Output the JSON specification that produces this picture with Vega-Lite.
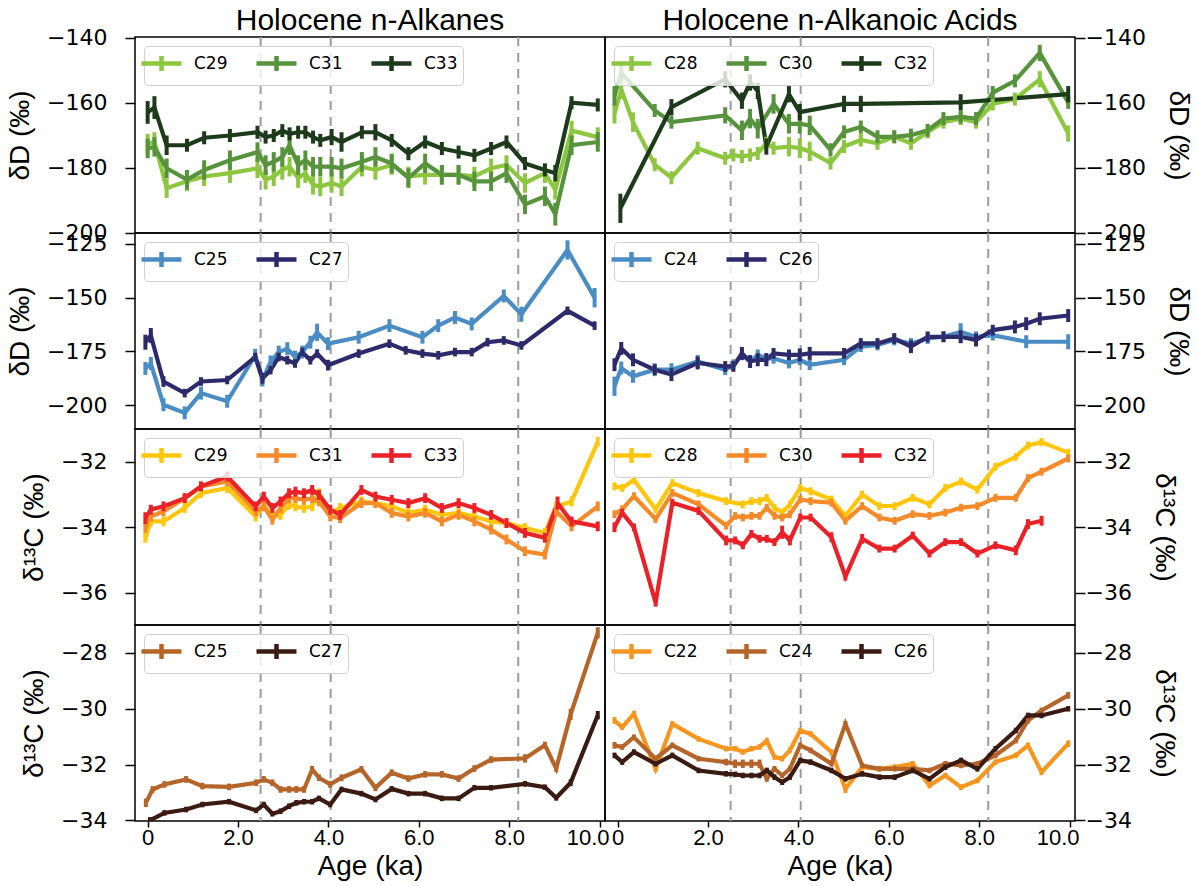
{
"$schema": "https://vega.github.io/schema/vega-lite/v6.json",
"background": "white",
"padding": {"left": 5, "top": 4, "right": 2, "bottom": 0},
"columns": 2,
"spacing": 0,
"bounds": "flush",
"resolve": {"scale": {"color": "independent", "x": "independent", "y": "independent"}, "legend": {"color": "independent"}},
"config": {
  "view": {"stroke": "black", "strokeWidth": 1.5},
  "axis": {"labelFont": "DejaVu Sans", "labelFontSize": 22, "labelColor": "black", "tickColor": "black", "tickSize": 10, "tickWidth": 1.5, "labelPadding": 18, "domain": false, "grid": false, "titleFont": "Liberation Sans", "titleFontSize": 28, "titleFontWeight": "normal", "titleColor": "black", "titlePadding": 12, "format": "d"},
  "axisRight": {"labelPadding": 0, "titlePadding": 18},
  "axisX": {"labelFont": "Liberation Sans", "labelFontSize": 22, "labelPadding": 0, "tickSize": 6, "titlePadding": 4},
  "title": {"font": "Liberation Sans", "fontSize": 30, "fontWeight": "normal", "color": "black", "offset": -9},
  "legend": {"orient": "top-left", "offset": 9, "direction": "horizontal", "labelFont": "DejaVu Sans", "labelFontSize": 17, "labelColor": "black", "symbolType": "M-2,0H2M0,-0.75V0.75", "symbolSize": 400, "symbolStrokeWidth": 4.5, "symbolFillColor": "transparent", "labelOffset": 20, "columnPadding": 19, "padding": 5, "strokeColor": "#d0d0d0", "fillColor": "rgba(255,255,255,0.8)", "cornerRadius": 4}
},
"datasets": {
  "ev": [{"x": 2.5}, {"x": 4.05}, {"x": 8.2}],
  "a1": [
    {"s":"C29","x":0.0,"y":-172.6,"e":3},{"s":"C29","x":0.15,"y":-172.1,"e":3},{"s":"C29","x":0.42,"y":-186.3,"e":3},{"s":"C29","x":0.87,"y":-184.2,"e":3},{"s":"C29","x":1.25,"y":-182.7,"e":3},{"s":"C29","x":1.82,"y":-181.7,"e":3},{"s":"C29","x":2.43,"y":-180.2,"e":3},{"s":"C29","x":2.61,"y":-183.7,"e":3},{"s":"C29","x":2.79,"y":-182.7,"e":3},{"s":"C29","x":2.98,"y":-180.7,"e":3},{"s":"C29","x":3.14,"y":-179.7,"e":3},{"s":"C29","x":3.33,"y":-183.2,"e":3},{"s":"C29","x":3.49,"y":-181.7,"e":3},{"s":"C29","x":3.66,"y":-185.3,"e":3},{"s":"C29","x":3.82,"y":-185.8,"e":3},{"s":"C29","x":4.07,"y":-184.7,"e":3},{"s":"C29","x":4.29,"y":-185.8,"e":3},{"s":"C29","x":4.74,"y":-179.7,"e":3},{"s":"C29","x":5.04,"y":-180.7,"e":3},{"s":"C29","x":5.4,"y":-179.2,"e":3},{"s":"C29","x":5.77,"y":-182.7,"e":3},{"s":"C29","x":6.14,"y":-182.2,"e":3},{"s":"C29","x":6.51,"y":-182.2,"e":3},{"s":"C29","x":6.88,"y":-182.2,"e":3},{"s":"C29","x":7.23,"y":-182.7,"e":3},{"s":"C29","x":7.6,"y":-180.2,"e":3},{"s":"C29","x":7.94,"y":-179.2,"e":3},{"s":"C29","x":8.35,"y":-184.7,"e":3},{"s":"C29","x":8.79,"y":-181.7,"e":3},{"s":"C29","x":9.02,"y":-186.8,"e":3},{"s":"C29","x":9.38,"y":-168.6,"e":3},{"s":"C29","x":9.96,"y":-170.6,"e":3},
    {"s":"C31","x":0.0,"y":-174.1,"e":3},{"s":"C31","x":0.15,"y":-173.6,"e":3},{"s":"C31","x":0.42,"y":-180.2,"e":3},{"s":"C31","x":0.87,"y":-183.7,"e":3},{"s":"C31","x":1.25,"y":-180.7,"e":3},{"s":"C31","x":1.82,"y":-177.7,"e":3},{"s":"C31","x":2.43,"y":-175.2,"e":3},{"s":"C31","x":2.61,"y":-179.2,"e":3},{"s":"C31","x":2.79,"y":-178.2,"e":3},{"s":"C31","x":2.98,"y":-176.7,"e":3},{"s":"C31","x":3.14,"y":-173.1,"e":3},{"s":"C31","x":3.33,"y":-179.2,"e":3},{"s":"C31","x":3.49,"y":-177.7,"e":3},{"s":"C31","x":3.66,"y":-179.7,"e":3},{"s":"C31","x":3.82,"y":-179.7,"e":3},{"s":"C31","x":4.07,"y":-179.7,"e":3},{"s":"C31","x":4.29,"y":-180.2,"e":3},{"s":"C31","x":4.74,"y":-178.2,"e":3},{"s":"C31","x":5.04,"y":-176.7,"e":3},{"s":"C31","x":5.4,"y":-178.7,"e":3},{"s":"C31","x":5.77,"y":-183.2,"e":3},{"s":"C31","x":6.14,"y":-178.7,"e":3},{"s":"C31","x":6.51,"y":-182.2,"e":3},{"s":"C31","x":6.88,"y":-182.2,"e":3},{"s":"C31","x":7.23,"y":-184.2,"e":3},{"s":"C31","x":7.6,"y":-184.2,"e":3},{"s":"C31","x":7.94,"y":-181.7,"e":3},{"s":"C31","x":8.35,"y":-191.3,"e":3},{"s":"C31","x":8.79,"y":-188.8,"e":3},{"s":"C31","x":9.02,"y":-194.3,"e":3.5},{"s":"C31","x":9.38,"y":-173.1,"e":3},{"s":"C31","x":9.96,"y":-172.1,"e":3},
    {"s":"C33","x":0.0,"y":-163.0,"e":3.5},{"s":"C33","x":0.15,"y":-161.5,"e":3.5},{"s":"C33","x":0.42,"y":-173.1,"e":3},{"s":"C33","x":0.87,"y":-173.1,"e":2},{"s":"C33","x":1.25,"y":-170.8,"e":2},{"s":"C33","x":1.82,"y":-170.1,"e":2},{"s":"C33","x":2.43,"y":-169.1,"e":2},{"s":"C33","x":2.61,"y":-170.6,"e":2},{"s":"C33","x":2.79,"y":-170.1,"e":2},{"s":"C33","x":2.98,"y":-168.6,"e":2},{"s":"C33","x":3.14,"y":-169.6,"e":2},{"s":"C33","x":3.33,"y":-169.1,"e":2},{"s":"C33","x":3.49,"y":-169.1,"e":2},{"s":"C33","x":3.66,"y":-170.6,"e":2},{"s":"C33","x":3.82,"y":-171.6,"e":2},{"s":"C33","x":4.07,"y":-170.6,"e":2.5},{"s":"C33","x":4.29,"y":-172.1,"e":3},{"s":"C33","x":4.74,"y":-169.1,"e":2},{"s":"C33","x":5.04,"y":-169.1,"e":2.5},{"s":"C33","x":5.4,"y":-171.6,"e":2},{"s":"C33","x":5.77,"y":-175.7,"e":2},{"s":"C33","x":6.14,"y":-172.1,"e":2},{"s":"C33","x":6.51,"y":-174.1,"e":2},{"s":"C33","x":6.88,"y":-175.2,"e":2},{"s":"C33","x":7.23,"y":-176.2,"e":2},{"s":"C33","x":7.6,"y":-174.1,"e":2},{"s":"C33","x":7.94,"y":-172.1,"e":2},{"s":"C33","x":8.35,"y":-178.7,"e":2},{"s":"C33","x":8.79,"y":-180.7,"e":2},{"s":"C33","x":9.02,"y":-181.7,"e":2.5},{"s":"C33","x":9.38,"y":-160.0,"e":2},{"s":"C33","x":9.96,"y":-160.7,"e":2}
  ],
  "b1": [
    {"s":"C28","x":-0.07,"y":-163.4,"e":3},{"s":"C28","x":0.08,"y":-155.9,"e":3},{"s":"C28","x":0.34,"y":-166.0,"e":3},{"s":"C28","x":0.82,"y":-179.1,"e":2},{"s":"C28","x":1.19,"y":-183.1,"e":2},{"s":"C28","x":1.77,"y":-174.0,"e":2},{"s":"C28","x":2.38,"y":-177.1,"e":2},{"s":"C28","x":2.56,"y":-176.1,"e":2},{"s":"C28","x":2.75,"y":-176.6,"e":2},{"s":"C28","x":2.93,"y":-176.1,"e":2},{"s":"C28","x":3.1,"y":-175.6,"e":2},{"s":"C28","x":3.29,"y":-172.5,"e":2},{"s":"C28","x":3.45,"y":-174.0,"e":2},{"s":"C28","x":3.79,"y":-173.5,"e":3},{"s":"C28","x":4.03,"y":-174.0,"e":3},{"s":"C28","x":4.25,"y":-175.0,"e":3},{"s":"C28","x":4.71,"y":-178.6,"e":2},{"s":"C28","x":5.01,"y":-173.5,"e":2},{"s":"C28","x":5.38,"y":-171.5,"e":2},{"s":"C28","x":5.75,"y":-172.5,"e":2},{"s":"C28","x":6.12,"y":-170.5,"e":2},{"s":"C28","x":6.49,"y":-172.5,"e":2},{"s":"C28","x":6.86,"y":-169.0,"e":2},{"s":"C28","x":7.21,"y":-166.0,"e":2},{"s":"C28","x":7.59,"y":-164.9,"e":2},{"s":"C28","x":7.93,"y":-166.0,"e":2},{"s":"C28","x":8.3,"y":-160.4,"e":2},{"s":"C28","x":8.79,"y":-158.9,"e":2},{"s":"C28","x":9.34,"y":-152.8,"e":2.5},{"s":"C28","x":9.97,"y":-169.5,"e":2.5},
    {"s":"C30","x":-0.07,"y":-157.9,"e":3},{"s":"C30","x":0.08,"y":-150.8,"e":3},{"s":"C30","x":0.82,"y":-162.4,"e":2},{"s":"C30","x":1.19,"y":-166.0,"e":2},{"s":"C30","x":2.38,"y":-163.9,"e":2.5},{"s":"C30","x":2.75,"y":-168.5,"e":3},{"s":"C30","x":2.93,"y":-164.9,"e":3},{"s":"C30","x":3.1,"y":-168.0,"e":3},{"s":"C30","x":3.45,"y":-160.4,"e":3},{"s":"C30","x":3.79,"y":-166.5,"e":3},{"s":"C30","x":4.03,"y":-166.5,"e":3},{"s":"C30","x":4.25,"y":-167.0,"e":3},{"s":"C30","x":4.71,"y":-174.5,"e":2},{"s":"C30","x":5.01,"y":-169.0,"e":2},{"s":"C30","x":5.38,"y":-167.5,"e":2},{"s":"C30","x":5.75,"y":-170.5,"e":2},{"s":"C30","x":6.12,"y":-170.5,"e":2},{"s":"C30","x":6.49,"y":-170.0,"e":2},{"s":"C30","x":6.86,"y":-168.5,"e":2},{"s":"C30","x":7.21,"y":-164.9,"e":2},{"s":"C30","x":7.59,"y":-164.4,"e":2},{"s":"C30","x":7.93,"y":-164.9,"e":2},{"s":"C30","x":8.3,"y":-156.9,"e":2},{"s":"C30","x":8.79,"y":-153.3,"e":2},{"s":"C30","x":9.34,"y":-144.7,"e":2.5},{"s":"C30","x":9.97,"y":-159.9,"e":2},
    {"s":"C32","x":0.06,"y":-192.5,"e":4.5},{"s":"C32","x":1.19,"y":-161.4,"e":2.5},{"s":"C32","x":2.38,"y":-152.8,"e":2.5},{"s":"C32","x":2.75,"y":-159.4,"e":2.5},{"s":"C32","x":2.93,"y":-153.8,"e":2.5},{"s":"C32","x":3.1,"y":-156.4,"e":2.5},{"s":"C32","x":3.29,"y":-173.5,"e":2.5},{"s":"C32","x":3.79,"y":-157.4,"e":2.5},{"s":"C32","x":4.03,"y":-162.9,"e":2.5},{"s":"C32","x":5.01,"y":-160.4,"e":2.5},{"s":"C32","x":5.38,"y":-160.4,"e":2.5},{"s":"C32","x":7.59,"y":-159.9,"e":2.5},{"s":"C32","x":9.97,"y":-157.4,"e":2.5}
  ],
  "a2": [
    {"s":"C25","x":-0.05,"y":-182.9,"e":3},{"s":"C25","x":0.07,"y":-180.6,"e":3},{"s":"C25","x":0.35,"y":-199.8,"e":3},{"s":"C25","x":0.82,"y":-203.6,"e":3},{"s":"C25","x":1.18,"y":-194.4,"e":3},{"s":"C25","x":1.76,"y":-198.2,"e":3},{"s":"C25","x":2.38,"y":-176.8,"e":3},{"s":"C25","x":2.54,"y":-188.3,"e":3},{"s":"C25","x":2.72,"y":-179.9,"e":3},{"s":"C25","x":2.9,"y":-175.3,"e":3},{"s":"C25","x":3.09,"y":-173.7,"e":3},{"s":"C25","x":3.26,"y":-177.6,"e":3},{"s":"C25","x":3.42,"y":-175.3,"e":3},{"s":"C25","x":3.6,"y":-170.7,"e":3},{"s":"C25","x":3.75,"y":-166.1,"e":4},{"s":"C25","x":3.99,"y":-171.4,"e":3},{"s":"C25","x":4.67,"y":-168.4,"e":3},{"s":"C25","x":5.35,"y":-163.0,"e":3},{"s":"C25","x":6.08,"y":-168.4,"e":3},{"s":"C25","x":6.43,"y":-163.0,"e":3},{"s":"C25","x":6.8,"y":-159.2,"e":3},{"s":"C25","x":7.17,"y":-162.2,"e":3},{"s":"C25","x":7.88,"y":-149.2,"e":3},{"s":"C25","x":8.27,"y":-157.7,"e":3.5},{"s":"C25","x":9.29,"y":-127.8,"e":4.5},{"s":"C25","x":9.89,"y":-150.0,"e":4.5},
    {"s":"C27","x":-0.05,"y":-170.7,"e":3.5},{"s":"C27","x":0.07,"y":-167.6,"e":3.5},{"s":"C27","x":0.35,"y":-189.0,"e":2.5},{"s":"C27","x":0.82,"y":-194.4,"e":2},{"s":"C27","x":1.18,"y":-189.0,"e":2},{"s":"C27","x":1.76,"y":-188.3,"e":2},{"s":"C27","x":2.38,"y":-177.6,"e":2},{"s":"C27","x":2.54,"y":-187.5,"e":2.5},{"s":"C27","x":2.72,"y":-183.7,"e":2},{"s":"C27","x":2.9,"y":-177.6,"e":2},{"s":"C27","x":3.09,"y":-179.1,"e":2},{"s":"C27","x":3.26,"y":-180.6,"e":2},{"s":"C27","x":3.42,"y":-175.3,"e":2},{"s":"C27","x":3.6,"y":-179.1,"e":2},{"s":"C27","x":3.75,"y":-176.0,"e":2},{"s":"C27","x":3.99,"y":-181.4,"e":2.5},{"s":"C27","x":4.67,"y":-176.0,"e":2},{"s":"C27","x":5.35,"y":-171.4,"e":2},{"s":"C27","x":5.71,"y":-174.5,"e":2},{"s":"C27","x":6.08,"y":-176.0,"e":2},{"s":"C27","x":6.43,"y":-176.8,"e":2},{"s":"C27","x":6.8,"y":-175.3,"e":2},{"s":"C27","x":7.17,"y":-175.3,"e":2},{"s":"C27","x":7.52,"y":-170.7,"e":2},{"s":"C27","x":7.88,"y":-169.9,"e":2},{"s":"C27","x":8.27,"y":-172.2,"e":2},{"s":"C27","x":9.29,"y":-156.1,"e":2},{"s":"C27","x":9.89,"y":-163.0,"e":2}
  ],
  "b2": [
    {"s":"C24","x":-0.07,"y":-191.2,"e":4.5},{"s":"C24","x":0.08,"y":-182.7,"e":3},{"s":"C24","x":0.34,"y":-186.6,"e":3},{"s":"C24","x":0.82,"y":-183.5,"e":3},{"s":"C24","x":1.19,"y":-183.5,"e":3},{"s":"C24","x":1.77,"y":-179.7,"e":3},{"s":"C24","x":2.38,"y":-183.5,"e":2.5},{"s":"C24","x":2.56,"y":-181.2,"e":2.5},{"s":"C24","x":2.75,"y":-176.6,"e":2.5},{"s":"C24","x":2.93,"y":-179.7,"e":2.5},{"s":"C24","x":3.1,"y":-176.6,"e":2.5},{"s":"C24","x":3.29,"y":-178.2,"e":2.5},{"s":"C24","x":3.45,"y":-178.2,"e":2.5},{"s":"C24","x":3.79,"y":-180.4,"e":2.5},{"s":"C24","x":4.03,"y":-178.9,"e":2.5},{"s":"C24","x":4.25,"y":-181.2,"e":2.5},{"s":"C24","x":5.01,"y":-178.9,"e":2.5},{"s":"C24","x":5.38,"y":-172.8,"e":2.5},{"s":"C24","x":5.75,"y":-172.0,"e":2.5},{"s":"C24","x":6.12,"y":-169.7,"e":2.5},{"s":"C24","x":6.49,"y":-171.3,"e":2.5},{"s":"C24","x":6.86,"y":-169.0,"e":2.5},{"s":"C24","x":7.21,"y":-168.2,"e":2.5},{"s":"C24","x":7.59,"y":-165.9,"e":4},{"s":"C24","x":7.93,"y":-168.2,"e":2.5},{"s":"C24","x":8.3,"y":-167.4,"e":2.5},{"s":"C24","x":9.04,"y":-170.5,"e":3},{"s":"C24","x":9.97,"y":-170.5,"e":3.5},
    {"s":"C26","x":-0.07,"y":-181.2,"e":3},{"s":"C26","x":0.08,"y":-173.6,"e":3},{"s":"C26","x":0.34,"y":-178.9,"e":3},{"s":"C26","x":0.82,"y":-183.5,"e":2.5},{"s":"C26","x":1.19,"y":-185.8,"e":3},{"s":"C26","x":1.77,"y":-180.4,"e":3},{"s":"C26","x":2.38,"y":-182.0,"e":2.5},{"s":"C26","x":2.56,"y":-182.0,"e":2.5},{"s":"C26","x":2.75,"y":-175.9,"e":3},{"s":"C26","x":2.93,"y":-179.7,"e":3},{"s":"C26","x":3.1,"y":-178.9,"e":3},{"s":"C26","x":3.29,"y":-178.9,"e":3},{"s":"C26","x":3.45,"y":-175.9,"e":2.5},{"s":"C26","x":3.79,"y":-176.6,"e":2.5},{"s":"C26","x":4.03,"y":-176.6,"e":3},{"s":"C26","x":4.25,"y":-175.9,"e":3},{"s":"C26","x":5.01,"y":-175.9,"e":2.5},{"s":"C26","x":5.38,"y":-171.3,"e":2.5},{"s":"C26","x":5.75,"y":-171.3,"e":2.5},{"s":"C26","x":6.12,"y":-169.0,"e":2.5},{"s":"C26","x":6.49,"y":-172.8,"e":3},{"s":"C26","x":6.86,"y":-168.2,"e":2.5},{"s":"C26","x":7.21,"y":-168.2,"e":2.5},{"s":"C26","x":7.59,"y":-168.2,"e":3},{"s":"C26","x":7.93,"y":-169.7,"e":3},{"s":"C26","x":8.3,"y":-165.1,"e":2.5},{"s":"C26","x":8.79,"y":-163.6,"e":3},{"s":"C26","x":9.04,"y":-162.1,"e":3},{"s":"C26","x":9.34,"y":-159.8,"e":3},{"s":"C26","x":9.97,"y":-158.3,"e":3}
  ],
  "a3": [
    {"s":"C29","x":-0.05,"y":-34.32,"e":0.15},{"s":"C29","x":0.07,"y":-33.82,"e":0.15},{"s":"C29","x":0.35,"y":-33.82,"e":0.15},{"s":"C29","x":0.82,"y":-33.41,"e":0.15},{"s":"C29","x":1.18,"y":-32.96,"e":0.15},{"s":"C29","x":1.76,"y":-32.8,"e":0.15},{"s":"C29","x":2.39,"y":-33.67,"e":0.15},{"s":"C29","x":2.57,"y":-33.31,"e":0.15},{"s":"C29","x":2.76,"y":-33.67,"e":0.15},{"s":"C29","x":2.94,"y":-33.62,"e":0.15},{"s":"C29","x":3.13,"y":-33.31,"e":0.15},{"s":"C29","x":3.27,"y":-33.36,"e":0.15},{"s":"C29","x":3.46,"y":-33.41,"e":0.15},{"s":"C29","x":3.64,"y":-33.36,"e":0.15},{"s":"C29","x":3.79,"y":-32.96,"e":0.15},{"s":"C29","x":4.04,"y":-33.56,"e":0.15},{"s":"C29","x":4.26,"y":-33.41,"e":0.15},{"s":"C29","x":4.73,"y":-33.21,"e":0.15},{"s":"C29","x":5.04,"y":-33.26,"e":0.15},{"s":"C29","x":5.4,"y":-33.36,"e":0.15},{"s":"C29","x":5.77,"y":-33.56,"e":0.15},{"s":"C29","x":6.14,"y":-33.46,"e":0.15},{"s":"C29","x":6.51,"y":-33.62,"e":0.15},{"s":"C29","x":6.88,"y":-33.56,"e":0.15},{"s":"C29","x":7.23,"y":-33.67,"e":0.15},{"s":"C29","x":7.6,"y":-33.82,"e":0.15},{"s":"C29","x":7.94,"y":-33.87,"e":0.15},{"s":"C29","x":8.35,"y":-34.02,"e":0.15},{"s":"C29","x":8.79,"y":-34.17,"e":0.15},{"s":"C29","x":9.04,"y":-33.36,"e":0.15},{"s":"C29","x":9.38,"y":-33.21,"e":0.15},{"s":"C29","x":9.96,"y":-31.39,"e":0.15},
    {"s":"C31","x":-0.05,"y":-34.02,"e":0.15},{"s":"C31","x":0.07,"y":-33.67,"e":0.15},{"s":"C31","x":0.35,"y":-33.51,"e":0.15},{"s":"C31","x":0.82,"y":-33.11,"e":0.15},{"s":"C31","x":1.18,"y":-32.75,"e":0.15},{"s":"C31","x":1.76,"y":-32.6,"e":0.15},{"s":"C31","x":2.39,"y":-33.51,"e":0.15},{"s":"C31","x":2.57,"y":-33.36,"e":0.15},{"s":"C31","x":2.76,"y":-33.77,"e":0.15},{"s":"C31","x":2.94,"y":-33.41,"e":0.15},{"s":"C31","x":3.13,"y":-33.11,"e":0.15},{"s":"C31","x":3.27,"y":-33.11,"e":0.15},{"s":"C31","x":3.46,"y":-33.16,"e":0.15},{"s":"C31","x":3.64,"y":-33.11,"e":0.15},{"s":"C31","x":3.79,"y":-33.21,"e":0.15},{"s":"C31","x":4.04,"y":-33.67,"e":0.15},{"s":"C31","x":4.26,"y":-33.72,"e":0.15},{"s":"C31","x":4.73,"y":-33.26,"e":0.15},{"s":"C31","x":5.04,"y":-33.26,"e":0.15},{"s":"C31","x":5.4,"y":-33.56,"e":0.15},{"s":"C31","x":5.77,"y":-33.67,"e":0.15},{"s":"C31","x":6.14,"y":-33.56,"e":0.15},{"s":"C31","x":6.51,"y":-33.82,"e":0.15},{"s":"C31","x":6.88,"y":-33.62,"e":0.15},{"s":"C31","x":7.23,"y":-33.82,"e":0.15},{"s":"C31","x":7.6,"y":-34.07,"e":0.15},{"s":"C31","x":7.94,"y":-34.37,"e":0.15},{"s":"C31","x":8.35,"y":-34.73,"e":0.15},{"s":"C31","x":8.79,"y":-34.83,"e":0.15},{"s":"C31","x":9.04,"y":-33.51,"e":0.15},{"s":"C31","x":9.38,"y":-33.97,"e":0.15},{"s":"C31","x":9.96,"y":-33.36,"e":0.15},
    {"s":"C33","x":-0.05,"y":-33.72,"e":0.18},{"s":"C33","x":0.07,"y":-33.46,"e":0.15},{"s":"C33","x":0.35,"y":-33.36,"e":0.15},{"s":"C33","x":0.82,"y":-33.11,"e":0.15},{"s":"C33","x":1.18,"y":-32.75,"e":0.15},{"s":"C33","x":1.76,"y":-32.45,"e":0.15},{"s":"C33","x":2.39,"y":-33.36,"e":0.15},{"s":"C33","x":2.57,"y":-33.06,"e":0.15},{"s":"C33","x":2.76,"y":-33.41,"e":0.15},{"s":"C33","x":2.94,"y":-33.21,"e":0.15},{"s":"C33","x":3.13,"y":-32.96,"e":0.15},{"s":"C33","x":3.27,"y":-32.91,"e":0.15},{"s":"C33","x":3.46,"y":-32.96,"e":0.15},{"s":"C33","x":3.64,"y":-32.86,"e":0.15},{"s":"C33","x":3.79,"y":-33.01,"e":0.15},{"s":"C33","x":4.04,"y":-33.46,"e":0.15},{"s":"C33","x":4.26,"y":-33.62,"e":0.15},{"s":"C33","x":4.73,"y":-32.86,"e":0.15},{"s":"C33","x":5.04,"y":-33.06,"e":0.15},{"s":"C33","x":5.4,"y":-33.16,"e":0.15},{"s":"C33","x":5.77,"y":-33.26,"e":0.15},{"s":"C33","x":6.14,"y":-33.11,"e":0.15},{"s":"C33","x":6.51,"y":-33.41,"e":0.15},{"s":"C33","x":6.88,"y":-33.26,"e":0.15},{"s":"C33","x":7.23,"y":-33.41,"e":0.15},{"s":"C33","x":7.6,"y":-33.62,"e":0.15},{"s":"C33","x":7.94,"y":-33.87,"e":0.15},{"s":"C33","x":8.35,"y":-34.17,"e":0.15},{"s":"C33","x":8.79,"y":-34.32,"e":0.15},{"s":"C33","x":9.07,"y":-33.26,"e":0.2},{"s":"C33","x":9.38,"y":-33.82,"e":0.15},{"s":"C33","x":9.96,"y":-33.97,"e":0.15}
  ],
  "b3": [
    {"s":"C28","x":-0.07,"y":-32.75,"e":0.12},{"s":"C28","x":0.1,"y":-32.8,"e":0.12},{"s":"C28","x":0.36,"y":-32.55,"e":0.12},{"s":"C28","x":0.84,"y":-33.45,"e":0.12},{"s":"C28","x":1.21,"y":-32.65,"e":0.12},{"s":"C28","x":1.79,"y":-32.95,"e":0.12},{"s":"C28","x":2.4,"y":-33.2,"e":0.12},{"s":"C28","x":2.77,"y":-33.3,"e":0.12},{"s":"C28","x":2.96,"y":-33.2,"e":0.12},{"s":"C28","x":3.14,"y":-33.2,"e":0.12},{"s":"C28","x":3.3,"y":-33.1,"e":0.12},{"s":"C28","x":3.47,"y":-33.4,"e":0.12},{"s":"C28","x":3.64,"y":-33.55,"e":0.12},{"s":"C28","x":3.81,"y":-33.3,"e":0.12},{"s":"C28","x":4.04,"y":-32.8,"e":0.12},{"s":"C28","x":4.27,"y":-32.9,"e":0.12},{"s":"C28","x":4.73,"y":-33.15,"e":0.12},{"s":"C28","x":5.04,"y":-33.65,"e":0.12},{"s":"C28","x":5.41,"y":-33.0,"e":0.12},{"s":"C28","x":5.79,"y":-33.35,"e":0.12},{"s":"C28","x":6.13,"y":-33.35,"e":0.12},{"s":"C28","x":6.53,"y":-33.1,"e":0.12},{"s":"C28","x":6.9,"y":-33.3,"e":0.12},{"s":"C28","x":7.25,"y":-32.8,"e":0.12},{"s":"C28","x":7.6,"y":-32.6,"e":0.12},{"s":"C28","x":7.96,"y":-32.85,"e":0.12},{"s":"C28","x":8.36,"y":-32.15,"e":0.12},{"s":"C28","x":8.81,"y":-31.85,"e":0.12},{"s":"C28","x":9.08,"y":-31.5,"e":0.12},{"s":"C28","x":9.38,"y":-31.4,"e":0.12},{"s":"C28","x":9.97,"y":-31.72,"e":0.12},
    {"s":"C30","x":-0.07,"y":-33.6,"e":0.12},{"s":"C30","x":0.1,"y":-33.45,"e":0.12},{"s":"C30","x":0.36,"y":-33.05,"e":0.12},{"s":"C30","x":0.84,"y":-33.75,"e":0.12},{"s":"C30","x":1.21,"y":-32.95,"e":0.12},{"s":"C30","x":1.79,"y":-33.3,"e":0.12},{"s":"C30","x":2.4,"y":-33.95,"e":0.12},{"s":"C30","x":2.6,"y":-33.65,"e":0.12},{"s":"C30","x":2.77,"y":-33.7,"e":0.12},{"s":"C30","x":2.96,"y":-33.65,"e":0.12},{"s":"C30","x":3.14,"y":-33.65,"e":0.12},{"s":"C30","x":3.3,"y":-33.4,"e":0.12},{"s":"C30","x":3.47,"y":-33.65,"e":0.12},{"s":"C30","x":3.64,"y":-33.7,"e":0.12},{"s":"C30","x":3.81,"y":-33.6,"e":0.12},{"s":"C30","x":4.04,"y":-33.15,"e":0.12},{"s":"C30","x":4.27,"y":-33.2,"e":0.12},{"s":"C30","x":4.73,"y":-33.25,"e":0.12},{"s":"C30","x":5.04,"y":-33.8,"e":0.12},{"s":"C30","x":5.41,"y":-33.35,"e":0.12},{"s":"C30","x":5.79,"y":-33.7,"e":0.12},{"s":"C30","x":6.13,"y":-33.8,"e":0.12},{"s":"C30","x":6.53,"y":-33.6,"e":0.12},{"s":"C30","x":6.9,"y":-33.65,"e":0.12},{"s":"C30","x":7.25,"y":-33.55,"e":0.12},{"s":"C30","x":7.6,"y":-33.4,"e":0.12},{"s":"C30","x":7.96,"y":-33.35,"e":0.12},{"s":"C30","x":8.36,"y":-33.1,"e":0.12},{"s":"C30","x":8.81,"y":-33.1,"e":0.12},{"s":"C30","x":9.08,"y":-32.5,"e":0.12},{"s":"C30","x":9.38,"y":-32.3,"e":0.12},{"s":"C30","x":9.97,"y":-31.9,"e":0.12},
    {"s":"C32","x":-0.07,"y":-34.0,"e":0.15},{"s":"C32","x":0.1,"y":-33.55,"e":0.12},{"s":"C32","x":0.36,"y":-34.0,"e":0.12},{"s":"C32","x":0.84,"y":-36.3,"e":0.12},{"s":"C32","x":1.21,"y":-33.25,"e":0.12},{"s":"C32","x":1.79,"y":-33.5,"e":0.12},{"s":"C32","x":2.4,"y":-34.4,"e":0.15},{"s":"C32","x":2.6,"y":-34.4,"e":0.12},{"s":"C32","x":2.77,"y":-34.55,"e":0.12},{"s":"C32","x":2.96,"y":-34.2,"e":0.12},{"s":"C32","x":3.14,"y":-34.35,"e":0.12},{"s":"C32","x":3.3,"y":-34.35,"e":0.12},{"s":"C32","x":3.47,"y":-34.45,"e":0.12},{"s":"C32","x":3.64,"y":-34.15,"e":0.2},{"s":"C32","x":3.81,"y":-34.4,"e":0.15},{"s":"C32","x":4.04,"y":-33.7,"e":0.12},{"s":"C32","x":4.27,"y":-33.7,"e":0.12},{"s":"C32","x":4.73,"y":-34.3,"e":0.15},{"s":"C32","x":5.04,"y":-35.5,"e":0.12},{"s":"C32","x":5.41,"y":-34.35,"e":0.15},{"s":"C32","x":5.79,"y":-34.65,"e":0.12},{"s":"C32","x":6.13,"y":-34.65,"e":0.12},{"s":"C32","x":6.53,"y":-34.25,"e":0.12},{"s":"C32","x":6.9,"y":-34.8,"e":0.12},{"s":"C32","x":7.25,"y":-34.45,"e":0.12},{"s":"C32","x":7.6,"y":-34.45,"e":0.12},{"s":"C32","x":7.96,"y":-34.8,"e":0.12},{"s":"C32","x":8.36,"y":-34.55,"e":0.12},{"s":"C32","x":8.81,"y":-34.7,"e":0.15},{"s":"C32","x":9.08,"y":-33.9,"e":0.15},{"s":"C32","x":9.38,"y":-33.8,"e":0.15}
  ],
  "a4": [
    {"s":"C25","x":-0.04,"y":-33.37,"e":0.15},{"s":"C25","x":0.11,"y":-32.89,"e":0.12},{"s":"C25","x":0.37,"y":-32.71,"e":0.12},{"s":"C25","x":0.85,"y":-32.53,"e":0.12},{"s":"C25","x":1.21,"y":-32.77,"e":0.12},{"s":"C25","x":1.8,"y":-32.8,"e":0.12},{"s":"C25","x":2.4,"y":-32.65,"e":0.12},{"s":"C25","x":2.57,"y":-32.53,"e":0.12},{"s":"C25","x":2.76,"y":-32.65,"e":0.12},{"s":"C25","x":2.94,"y":-32.89,"e":0.12},{"s":"C25","x":3.13,"y":-32.89,"e":0.12},{"s":"C25","x":3.29,"y":-32.89,"e":0.12},{"s":"C25","x":3.46,"y":-32.89,"e":0.12},{"s":"C25","x":3.64,"y":-32.17,"e":0.12},{"s":"C25","x":3.79,"y":-32.47,"e":0.12},{"s":"C25","x":4.04,"y":-32.71,"e":0.12},{"s":"C25","x":4.29,"y":-32.47,"e":0.12},{"s":"C25","x":4.73,"y":-32.17,"e":0.12},{"s":"C25","x":5.04,"y":-32.83,"e":0.12},{"s":"C25","x":5.4,"y":-32.29,"e":0.12},{"s":"C25","x":5.77,"y":-32.5,"e":0.12},{"s":"C25","x":6.14,"y":-32.35,"e":0.12},{"s":"C25","x":6.51,"y":-32.35,"e":0.12},{"s":"C25","x":6.88,"y":-32.5,"e":0.12},{"s":"C25","x":7.23,"y":-32.14,"e":0.12},{"s":"C25","x":7.6,"y":-31.82,"e":0.12},{"s":"C25","x":8.35,"y":-31.78,"e":0.15},{"s":"C25","x":8.79,"y":-31.3,"e":0.12},{"s":"C25","x":9.04,"y":-32.14,"e":0.12},{"s":"C25","x":9.36,"y":-30.2,"e":0.2},{"s":"C25","x":9.96,"y":-27.28,"e":0.2},
    {"s":"C27","x":0.05,"y":-34.0,"e":0.12},{"s":"C27","x":0.37,"y":-33.73,"e":0.1},{"s":"C27","x":0.85,"y":-33.61,"e":0.1},{"s":"C27","x":1.21,"y":-33.43,"e":0.1},{"s":"C27","x":1.8,"y":-33.33,"e":0.1},{"s":"C27","x":2.4,"y":-33.64,"e":0.1},{"s":"C27","x":2.57,"y":-33.43,"e":0.1},{"s":"C27","x":2.76,"y":-33.76,"e":0.1},{"s":"C27","x":2.94,"y":-33.67,"e":0.1},{"s":"C27","x":3.13,"y":-33.49,"e":0.1},{"s":"C27","x":3.29,"y":-33.37,"e":0.1},{"s":"C27","x":3.46,"y":-33.33,"e":0.1},{"s":"C27","x":3.64,"y":-33.33,"e":0.1},{"s":"C27","x":3.79,"y":-33.21,"e":0.1},{"s":"C27","x":4.04,"y":-33.43,"e":0.1},{"s":"C27","x":4.29,"y":-32.89,"e":0.1},{"s":"C27","x":4.73,"y":-33.04,"e":0.1},{"s":"C27","x":5.04,"y":-33.25,"e":0.1},{"s":"C27","x":5.4,"y":-32.87,"e":0.1},{"s":"C27","x":5.77,"y":-33.04,"e":0.1},{"s":"C27","x":6.14,"y":-33.04,"e":0.1},{"s":"C27","x":6.51,"y":-33.21,"e":0.1},{"s":"C27","x":6.88,"y":-33.21,"e":0.1},{"s":"C27","x":7.23,"y":-32.83,"e":0.1},{"s":"C27","x":7.6,"y":-32.83,"e":0.1},{"s":"C27","x":8.35,"y":-32.69,"e":0.1},{"s":"C27","x":8.79,"y":-32.81,"e":0.1},{"s":"C27","x":9.04,"y":-33.19,"e":0.1},{"s":"C27","x":9.36,"y":-32.65,"e":0.12},{"s":"C27","x":9.96,"y":-30.23,"e":0.15}
  ],
  "b4": [
    {"s":"C22","x":-0.07,"y":-30.42,"e":0.12},{"s":"C22","x":0.1,"y":-30.66,"e":0.1},{"s":"C22","x":0.36,"y":-30.18,"e":0.1},{"s":"C22","x":0.84,"y":-32.15,"e":0.12},{"s":"C22","x":1.21,"y":-30.54,"e":0.1},{"s":"C22","x":1.79,"y":-31.08,"e":0.1},{"s":"C22","x":2.4,"y":-31.43,"e":0.1},{"s":"C22","x":2.6,"y":-31.43,"e":0.1},{"s":"C22","x":2.77,"y":-31.55,"e":0.1},{"s":"C22","x":2.96,"y":-31.43,"e":0.1},{"s":"C22","x":3.14,"y":-31.37,"e":0.1},{"s":"C22","x":3.3,"y":-31.14,"e":0.1},{"s":"C22","x":3.47,"y":-31.73,"e":0.1},{"s":"C22","x":3.64,"y":-31.79,"e":0.1},{"s":"C22","x":3.81,"y":-31.49,"e":0.1},{"s":"C22","x":4.04,"y":-30.78,"e":0.1},{"s":"C22","x":4.27,"y":-30.9,"e":0.1},{"s":"C22","x":4.73,"y":-31.55,"e":0.1},{"s":"C22","x":5.04,"y":-32.87,"e":0.15},{"s":"C22","x":5.41,"y":-32.09,"e":0.1},{"s":"C22","x":5.79,"y":-32.15,"e":0.1},{"s":"C22","x":6.13,"y":-32.09,"e":0.1},{"s":"C22","x":6.53,"y":-31.97,"e":0.1},{"s":"C22","x":6.9,"y":-32.75,"e":0.1},{"s":"C22","x":7.25,"y":-32.39,"e":0.1},{"s":"C22","x":7.6,"y":-32.81,"e":0.1},{"s":"C22","x":7.96,"y":-32.57,"e":0.1},{"s":"C22","x":8.36,"y":-31.91,"e":0.1},{"s":"C22","x":8.81,"y":-31.67,"e":0.1},{"s":"C22","x":9.08,"y":-31.31,"e":0.1},{"s":"C22","x":9.38,"y":-32.27,"e":0.1},{"s":"C22","x":9.97,"y":-31.25,"e":0.12},
    {"s":"C24","x":-0.07,"y":-31.31,"e":0.12},{"s":"C24","x":0.1,"y":-31.37,"e":0.1},{"s":"C24","x":0.36,"y":-31.02,"e":0.1},{"s":"C24","x":0.84,"y":-31.79,"e":0.1},{"s":"C24","x":1.21,"y":-31.31,"e":0.1},{"s":"C24","x":1.79,"y":-31.79,"e":0.1},{"s":"C24","x":2.4,"y":-31.91,"e":0.12},{"s":"C24","x":2.6,"y":-31.97,"e":0.15},{"s":"C24","x":2.77,"y":-31.97,"e":0.15},{"s":"C24","x":2.96,"y":-31.97,"e":0.15},{"s":"C24","x":3.14,"y":-31.97,"e":0.15},{"s":"C24","x":3.3,"y":-32.51,"e":0.1},{"s":"C24","x":3.47,"y":-32.15,"e":0.1},{"s":"C24","x":3.64,"y":-32.39,"e":0.1},{"s":"C24","x":3.81,"y":-32.15,"e":0.1},{"s":"C24","x":4.04,"y":-31.31,"e":0.1},{"s":"C24","x":4.27,"y":-31.49,"e":0.1},{"s":"C24","x":4.73,"y":-31.97,"e":0.1},{"s":"C24","x":5.04,"y":-30.54,"e":0.1},{"s":"C24","x":5.41,"y":-32.03,"e":0.1},{"s":"C24","x":5.79,"y":-32.15,"e":0.1},{"s":"C24","x":6.13,"y":-32.15,"e":0.1},{"s":"C24","x":6.53,"y":-32.15,"e":0.1},{"s":"C24","x":6.9,"y":-32.21,"e":0.1},{"s":"C24","x":7.25,"y":-31.97,"e":0.1},{"s":"C24","x":7.6,"y":-32.03,"e":0.1},{"s":"C24","x":7.96,"y":-31.97,"e":0.1},{"s":"C24","x":8.36,"y":-31.67,"e":0.1},{"s":"C24","x":8.81,"y":-31.14,"e":0.1},{"s":"C24","x":9.08,"y":-30.42,"e":0.1},{"s":"C24","x":9.38,"y":-30.06,"e":0.1},{"s":"C24","x":9.97,"y":-29.52,"e":0.12},
    {"s":"C26","x":-0.07,"y":-31.67,"e":0.1},{"s":"C26","x":0.1,"y":-31.91,"e":0.1},{"s":"C26","x":0.36,"y":-31.55,"e":0.1},{"s":"C26","x":0.84,"y":-31.97,"e":0.1},{"s":"C26","x":1.21,"y":-31.67,"e":0.1},{"s":"C26","x":1.79,"y":-32.21,"e":0.1},{"s":"C26","x":2.4,"y":-32.33,"e":0.1},{"s":"C26","x":2.6,"y":-32.35,"e":0.1},{"s":"C26","x":2.77,"y":-32.39,"e":0.1},{"s":"C26","x":2.96,"y":-32.39,"e":0.1},{"s":"C26","x":3.14,"y":-32.39,"e":0.1},{"s":"C26","x":3.3,"y":-32.21,"e":0.1},{"s":"C26","x":3.47,"y":-32.45,"e":0.1},{"s":"C26","x":3.64,"y":-32.63,"e":0.1},{"s":"C26","x":3.81,"y":-32.45,"e":0.1},{"s":"C26","x":4.04,"y":-31.85,"e":0.1},{"s":"C26","x":4.27,"y":-31.91,"e":0.1},{"s":"C26","x":4.73,"y":-32.21,"e":0.1},{"s":"C26","x":5.04,"y":-32.51,"e":0.1},{"s":"C26","x":5.41,"y":-32.33,"e":0.1},{"s":"C26","x":5.79,"y":-32.45,"e":0.1},{"s":"C26","x":6.13,"y":-32.45,"e":0.1},{"s":"C26","x":6.53,"y":-32.21,"e":0.1},{"s":"C26","x":6.9,"y":-32.51,"e":0.1},{"s":"C26","x":7.25,"y":-32.09,"e":0.1},{"s":"C26","x":7.6,"y":-31.85,"e":0.1},{"s":"C26","x":7.96,"y":-32.15,"e":0.1},{"s":"C26","x":8.36,"y":-31.43,"e":0.1},{"s":"C26","x":8.81,"y":-30.78,"e":0.1},{"s":"C26","x":9.08,"y":-30.24,"e":0.1},{"s":"C26","x":9.38,"y":-30.24,"e":0.1},{"s":"C26","x":9.97,"y":-30.0,"e":0.1}
  ]
},
"concat": [
  {"width": 470, "height": 196, "title": {"text": "Holocene n-Alkanes"},
   "encoding": {"x": {"field": "x", "type": "quantitative", "scale": {"domain": [-0.28, 10.12], "nice": false, "zero": false}, "axis": null}},
   "layer": [
     {"data": {"name": "ev"}, "mark": {"type": "rule", "color": "#9b9b9b", "strokeDash": [9, 7], "strokeWidth": 2}, "encoding": {}},
     {"data": {"name": "a1"},
      "encoding": {"y": {"field": "y", "type": "quantitative", "scale": {"domain": [-200.1, -139.8], "nice": false, "zero": false, "clamp": true}, "axis": {"orient": "left", "values": [-200, -180, -160, -140], "title": "δD (‰)"}},
                   "color": {"field": "s", "type": "nominal", "scale": {"domain": ["C29", "C31", "C33"], "range": ["#8dc63f", "#57933d", "#1d3b1b"]}, "legend": {"title": null, "columns": 3}}},
      "layer": [{"mark": {"type": "line", "strokeWidth": 4.2, "clip": true}, "encoding": {}}, {"mark": {"type": "errorbar", "thickness": 4}, "encoding": {"yError": {"field": "e"}}}]}
   ]},
  {"width": 470, "height": 196, "title": {"text": "Holocene n-Alkanoic Acids"},
   "encoding": {"x": {"field": "x", "type": "quantitative", "scale": {"domain": [-0.28, 10.12], "nice": false, "zero": false}, "axis": null}},
   "layer": [
     {"data": {"name": "ev"}, "mark": {"type": "rule", "color": "#9b9b9b", "strokeDash": [9, 7], "strokeWidth": 2}, "encoding": {}},
     {"data": {"name": "b1"},
      "encoding": {"y": {"field": "y", "type": "quantitative", "scale": {"domain": [-200.1, -139.8], "nice": false, "zero": false, "clamp": true}, "axis": {"orient": "right", "values": [-200, -180, -160, -140], "title": "δD (‰)"}},
                   "color": {"field": "s", "type": "nominal", "scale": {"domain": ["C28", "C30", "C32"], "range": ["#8dc63f", "#57933d", "#1d3b1b"]}, "legend": {"title": null, "columns": 3}}},
      "layer": [{"mark": {"type": "line", "strokeWidth": 4.2, "clip": true}, "encoding": {}}, {"mark": {"type": "errorbar", "thickness": 4}, "encoding": {"yError": {"field": "e"}}}]}
   ]},
  {"width": 470, "height": 196,
   "encoding": {"x": {"field": "x", "type": "quantitative", "scale": {"domain": [-0.28, 10.12], "nice": false, "zero": false}, "axis": null}},
   "layer": [
     {"data": {"name": "ev"}, "mark": {"type": "rule", "color": "#9b9b9b", "strokeDash": [9, 7], "strokeWidth": 2}, "encoding": {}},
     {"data": {"name": "a2"},
      "encoding": {"y": {"field": "y", "type": "quantitative", "scale": {"domain": [-211.1, -119.9], "nice": false, "zero": false, "clamp": true}, "axis": {"orient": "left", "values": [-200, -175, -150, -125], "title": "δD (‰)"}},
                   "color": {"field": "s", "type": "nominal", "scale": {"domain": ["C25", "C27"], "range": ["#4a8cc4", "#2c2a6b"]}, "legend": {"title": null, "columns": 2}}},
      "layer": [{"mark": {"type": "line", "strokeWidth": 4.2, "clip": true}, "encoding": {}}, {"mark": {"type": "errorbar", "thickness": 4}, "encoding": {"yError": {"field": "e"}}}]}
   ]},
  {"width": 470, "height": 196,
   "encoding": {"x": {"field": "x", "type": "quantitative", "scale": {"domain": [-0.28, 10.12], "nice": false, "zero": false}, "axis": null}},
   "layer": [
     {"data": {"name": "ev"}, "mark": {"type": "rule", "color": "#9b9b9b", "strokeDash": [9, 7], "strokeWidth": 2}, "encoding": {}},
     {"data": {"name": "b2"},
      "encoding": {"y": {"field": "y", "type": "quantitative", "scale": {"domain": [-211.1, -119.9], "nice": false, "zero": false, "clamp": true}, "axis": {"orient": "right", "values": [-200, -175, -150, -125], "title": "δD (‰)"}},
                   "color": {"field": "s", "type": "nominal", "scale": {"domain": ["C24", "C26"], "range": ["#4a8cc4", "#2c2a6b"]}, "legend": {"title": null, "columns": 2}}},
      "layer": [{"mark": {"type": "line", "strokeWidth": 4.2, "clip": true}, "encoding": {}}, {"mark": {"type": "errorbar", "thickness": 4}, "encoding": {"yError": {"field": "e"}}}]}
   ]},
  {"width": 470, "height": 196,
   "encoding": {"x": {"field": "x", "type": "quantitative", "scale": {"domain": [-0.28, 10.12], "nice": false, "zero": false}, "axis": null}},
   "layer": [
     {"data": {"name": "ev"}, "mark": {"type": "rule", "color": "#9b9b9b", "strokeDash": [9, 7], "strokeWidth": 2}, "encoding": {}},
     {"data": {"name": "a3"},
      "encoding": {"y": {"field": "y", "type": "quantitative", "scale": {"domain": [-36.98, -31.0], "nice": false, "zero": false, "clamp": true}, "axis": {"orient": "left", "values": [-36, -34, -32], "title": "δ¹³C (‰)"}},
                   "color": {"field": "s", "type": "nominal", "scale": {"domain": ["C29", "C31", "C33"], "range": ["#ffc60b", "#f58a2b", "#ea2127"]}, "legend": {"title": null, "columns": 3}}},
      "layer": [{"mark": {"type": "line", "strokeWidth": 4.2, "clip": true}, "encoding": {}}, {"mark": {"type": "errorbar", "thickness": 4}, "encoding": {"yError": {"field": "e"}}}]}
   ]},
  {"width": 470, "height": 196,
   "encoding": {"x": {"field": "x", "type": "quantitative", "scale": {"domain": [-0.28, 10.12], "nice": false, "zero": false}, "axis": null}},
   "layer": [
     {"data": {"name": "ev"}, "mark": {"type": "rule", "color": "#9b9b9b", "strokeDash": [9, 7], "strokeWidth": 2}, "encoding": {}},
     {"data": {"name": "b3"},
      "encoding": {"y": {"field": "y", "type": "quantitative", "scale": {"domain": [-36.98, -31.0], "nice": false, "zero": false, "clamp": true}, "axis": {"orient": "right", "values": [-36, -34, -32], "title": "δ¹³C (‰)"}},
                   "color": {"field": "s", "type": "nominal", "scale": {"domain": ["C28", "C30", "C32"], "range": ["#ffc60b", "#f58a2b", "#ea2127"]}, "legend": {"title": null, "columns": 3}}},
      "layer": [{"mark": {"type": "line", "strokeWidth": 4.2, "clip": true}, "encoding": {}}, {"mark": {"type": "errorbar", "thickness": 4}, "encoding": {"yError": {"field": "e"}}}]}
   ]},
  {"width": 470, "height": 196,
   "encoding": {"x": {"field": "x", "type": "quantitative", "scale": {"domain": [-0.28, 10.12], "nice": false, "zero": false}, "axis": {"values": [0, 2, 4, 6, 8, 10], "labelExpr": "datum.value == 0 ? '0' : format(datum.value, '.1f')", "labelOffset": {"condition": {"test": "datum.value == 10", "value": -12}, "value": 0}, "title": "Age (ka)"}}},
   "layer": [
     {"data": {"name": "ev"}, "mark": {"type": "rule", "color": "#9b9b9b", "strokeDash": [9, 7], "strokeWidth": 2}, "encoding": {}},
     {"data": {"name": "a4"},
      "encoding": {"y": {"field": "y", "type": "quantitative", "scale": {"domain": [-34.02, -27.0], "nice": false, "zero": false, "clamp": true}, "axis": {"orient": "left", "values": [-34, -32, -30, -28], "title": "δ¹³C (‰)"}},
                   "color": {"field": "s", "type": "nominal", "scale": {"domain": ["C25", "C27"], "range": ["#b5652a", "#3b1a12"]}, "legend": {"title": null, "columns": 2}}},
      "layer": [{"mark": {"type": "line", "strokeWidth": 4.2, "clip": true}, "encoding": {}}, {"mark": {"type": "errorbar", "thickness": 4}, "encoding": {"yError": {"field": "e"}}}]}
   ]},
  {"width": 470, "height": 196,
   "encoding": {"x": {"field": "x", "type": "quantitative", "scale": {"domain": [-0.28, 10.12], "nice": false, "zero": false}, "axis": {"values": [0, 2, 4, 6, 8, 10], "labelExpr": "datum.value == 0 ? '0' : format(datum.value, '.1f')", "labelOffset": {"condition": {"test": "datum.value == 10", "value": -12}, "value": 0}, "title": "Age (ka)"}}},
   "layer": [
     {"data": {"name": "ev"}, "mark": {"type": "rule", "color": "#9b9b9b", "strokeDash": [9, 7], "strokeWidth": 2}, "encoding": {}},
     {"data": {"name": "b4"},
      "encoding": {"y": {"field": "y", "type": "quantitative", "scale": {"domain": [-34.02, -27.0], "nice": false, "zero": false, "clamp": true}, "axis": {"orient": "right", "values": [-34, -32, -30, -28], "title": "δ¹³C (‰)"}},
                   "color": {"field": "s", "type": "nominal", "scale": {"domain": ["C22", "C24", "C26"], "range": ["#f6961f", "#b5652a", "#3b1a12"]}, "legend": {"title": null, "columns": 3}}},
      "layer": [{"mark": {"type": "line", "strokeWidth": 4.2, "clip": true}, "encoding": {}}, {"mark": {"type": "errorbar", "thickness": 4}, "encoding": {"yError": {"field": "e"}}}]}
   ]}
]
}
